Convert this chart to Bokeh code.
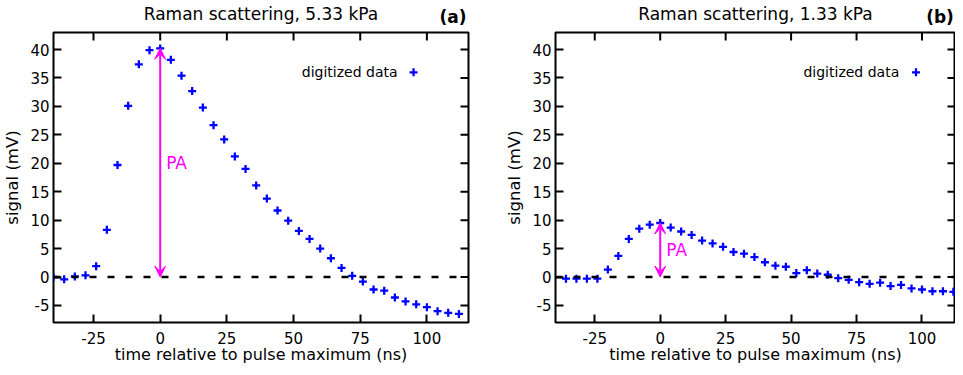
from bokeh.plotting import figure
from bokeh.layouts import row
from bokeh.models import Span, Arrow, VeeHead, Label, FixedTicker, Range1d, LinearAxis
from bokeh.embed import file_html
from bokeh.resources import INLINE

# ---- data ----
time_a = [-40, -36, -32, -28, -24, -20, -16, -12, -8, -4,
          0, 4, 8, 12, 16, 20, 24, 28, 32, 36, 40, 44, 48, 52, 56, 60,
          64, 68, 72, 76, 80, 84, 88, 92, 96, 100, 104, 108, 112]
signal_a = [0.0, -0.4, 0.1, 0.3, 1.9, 8.3, 19.7, 30.1, 37.4, 39.9,
            40.2, 38.2, 35.4, 32.7, 29.8, 26.7, 24.2, 21.2, 19.0, 16.1, 13.8, 11.7, 9.9, 8.1, 6.7, 5.0,
            3.3, 1.6, 0.2, -0.8, -2.2, -2.4, -3.6, -4.3, -4.8, -5.3, -6.0, -6.3, -6.5]

time_b = [-36, -32, -28, -24, -20, -16, -12, -8, -4,
          0, 4, 8, 12, 16, 20, 24, 28, 32, 36, 40, 44, 48, 52, 56, 60,
          64, 68, 72, 76, 80, 84, 88, 92, 96, 100, 104, 108, 112]
signal_b = [-0.3, -0.3, -0.3, -0.3, 1.3, 3.7, 6.7, 8.5, 9.2,
            9.5, 8.7, 8.0, 7.4, 6.4, 5.9, 5.3, 4.4, 4.1, 3.5, 2.6, 2.0, 1.8, 0.7, 1.2, 0.6,
            0.4, -0.2, -0.5, -0.9, -1.2, -1.0, -1.6, -1.4, -2.0, -2.2, -2.5, -2.5, -2.6]

titles = ["Raman scattering, 5.33 kPa", "Raman scattering, 1.33 kPa"]
panel_tags = ["(a)", "(b)"]
x_ticks = [-25, 0, 25, 50, 75, 100]
x_tick_labels = ["-25", "0", "25", "50", "75", "100"]
y_ticks = [-5, 0, 5, 10, 15, 20, 25, 30, 35, 40]
y_tick_labels = ["-5", "0", "5", "10", "15", "20", "25", "30", "35", "40"]
x_label = "time relative to pulse maximum (ns)"
y_label = "signal (mV)"
legend_text = "digitized data"
arrow_text = "PA"

FONT = "DejaVu Sans"
BLUE = "#0000ff"
MAGENTA = "#ff00ff"

X_START, Y_START, Y_END = -40.0, -8.0, 43.0
FRAME_H = 290
TICK_LEN = 8  # px, inward ticks
LEG_Y = 36.0


def style_axis(ax, ticks, labels):
    ax.ticker = FixedTicker(ticks=ticks)
    ax.major_tick_in = TICK_LEN
    ax.major_tick_out = 0
    ax.major_tick_line_width = 2
    ax.major_tick_line_color = "black"
    ax.minor_tick_line_color = None
    ax.axis_line_color = None
    ax.major_label_overrides = {t: l for t, l in zip(ticks, labels)}
    ax.major_label_text_font = FONT
    ax.major_label_text_font_size = "15px"
    ax.major_label_text_color = "black"
    ax.axis_label_text_font = FONT
    ax.axis_label_text_font_size = "16.5px"
    ax.axis_label_text_font_style = "normal"
    ax.axis_label_text_color = "black"


def make_panel(t, s, title, tag, x_end, frame_w, b_left, b_right, leg_text_x, leg_key_x):
    p = figure(output_backend="svg", toolbar_location=None,
               frame_width=frame_w, frame_height=FRAME_H,
               min_border_left=b_left, min_border_right=b_right,
               min_border_top=25, min_border_bottom=41,
               x_range=Range1d(X_START, x_end), y_range=Range1d(Y_START, Y_END),
               background_fill_color="white", border_fill_color="white")
    p.grid.visible = False
    p.outline_line_color = "black"
    p.outline_line_width = 2
    p.title.text = ""
    p.title.standoff = 0
    p.title.visible = False

    xa, ya = p.xaxis[0], p.yaxis[0]
    style_axis(xa, x_ticks, x_tick_labels)
    style_axis(ya, y_ticks, y_tick_labels)
    xa.axis_label = x_label
    ya.axis_label = y_label
    xa.axis_label_text_font_size = "16px"
    xa.major_label_standoff = 9
    xa.axis_label_standoff = -2
    ya.major_label_standoff = 4
    ya.axis_label_standoff = 5

    # heading row above the frame: centred title and bold panel tag at the right
    px_per_x = frame_w / (x_end - X_START)
    x_tag = round(x_end - 15.5 / px_per_x, 2)
    head = LinearAxis(ticker=FixedTicker(ticks=[x_tag]),
                      major_label_overrides={x_tag: tag},
                      major_tick_in=0, major_tick_out=0,
                      major_tick_line_color=None, minor_tick_line_color=None,
                      axis_line_color=None, major_label_standoff=6,
                      major_label_text_font=FONT, major_label_text_font_size="17px",
                      major_label_text_font_style="bold", major_label_text_color="black",
                      axis_label=title, axis_label_standoff=-20,
                      axis_label_text_font=FONT, axis_label_text_font_size="17px",
                      axis_label_text_font_style="normal", axis_label_text_color="black")
    p.add_layout(head, "above")

    # mirrored inward ticks on the top and right edges of the frame
    dx = TICK_LEN / px_per_x
    dy = TICK_LEN * (Y_END - Y_START) / FRAME_H
    p.segment(x0=x_ticks, y0=[Y_END] * len(x_ticks), x1=x_ticks, y1=[Y_END - dy] * len(x_ticks),
              line_color="black", line_width=2)
    p.segment(x0=[x_end] * len(y_ticks), y0=y_ticks, x1=[x_end - dx] * len(y_ticks), y1=y_ticks,
              line_color="black", line_width=2)

    p.add_layout(Span(location=0, dimension="width", line_color="black",
                      line_width=2.5, line_dash="7 11"))

    p.scatter(t, s, marker="cross", size=8, line_width=2.3, color=BLUE)

    peak = max(s)
    t_peak = t[s.index(peak)]
    p.add_layout(Arrow(x_start=t_peak, y_start=0, x_end=t_peak, y_end=peak,
                       line_color=MAGENTA, line_width=2,
                       start=VeeHead(size=11, fill_color=MAGENTA, line_color=MAGENTA),
                       end=VeeHead(size=11, fill_color=MAGENTA, line_color=MAGENTA)))
    p.add_layout(Label(x=t_peak, y=peak / 2, text=arrow_text, x_offset=6,
                       text_baseline="middle", text_align="left",
                       text_font=FONT, text_font_size="17px", text_color=MAGENTA))

    p.add_layout(Label(x=leg_text_x, y=LEG_Y, text=legend_text,
                       text_baseline="middle", text_align="right",
                       text_font=FONT, text_font_size="14px", text_color="black"))
    p.scatter([leg_key_x], [LEG_Y], marker="cross", size=8, line_width=2.3, color=BLUE)
    return p


pa = make_panel(time_a, signal_a, titles[0], panel_tags[0], 115.6, 415, 44, 13, 89.0, 95.0)
pb = make_panel(time_b, signal_b, titles[1], panel_tags[1], 112.8, 400, 74, 0, 91.3, 97.7)

layout = row(pa, pb)
open("out.html", "w").write(file_html(layout, INLINE))
